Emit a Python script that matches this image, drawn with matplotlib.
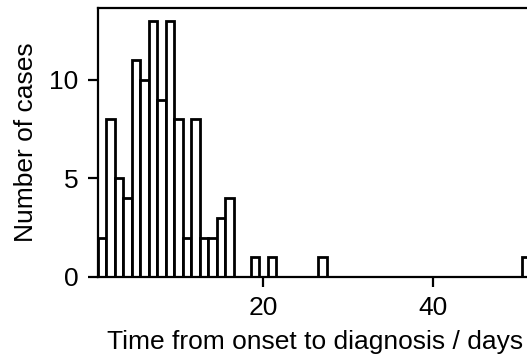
import matplotlib
matplotlib.use("Agg")
import matplotlib.pyplot as plt

days = [1, 2, 3, 4, 5, 6, 7, 8, 9, 10, 11, 12, 13, 14, 15, 16, 19, 21, 27, 51]
counts = [2, 8, 5, 4, 11, 10, 13, 9, 13, 8, 2, 8, 2, 2, 3, 4, 1, 1, 1, 1]
yticks = [0, 5, 10]
xticks = [20, 40]

plt.rcParams['font.family'] = ['Liberation Sans', 'DejaVu Sans']
plt.rcParams['font.size'] = 9.5

W, H = 527, 358
dpi = 200
fig = plt.figure(figsize=(W / dpi, H / dpi), dpi=dpi)
ax = fig.add_axes([98 / W, (H - 277) / H, (533 - 98) / W, (277 - 8) / H])

ax.bar(days, counts, width=1.0, facecolor='white', edgecolor='black', linewidth=1.0)
ax.set_xlim(0.5, 51.8)
ax.set_ylim(0, 13.65)
ax.set_yticks(yticks)
ax.set_xticks(xticks)
ax.set_xlabel('Time from onset to diagnosis / days', labelpad=3.5)
ax.set_ylabel('Number of cases')

fig.savefig('out.png', dpi=dpi)
